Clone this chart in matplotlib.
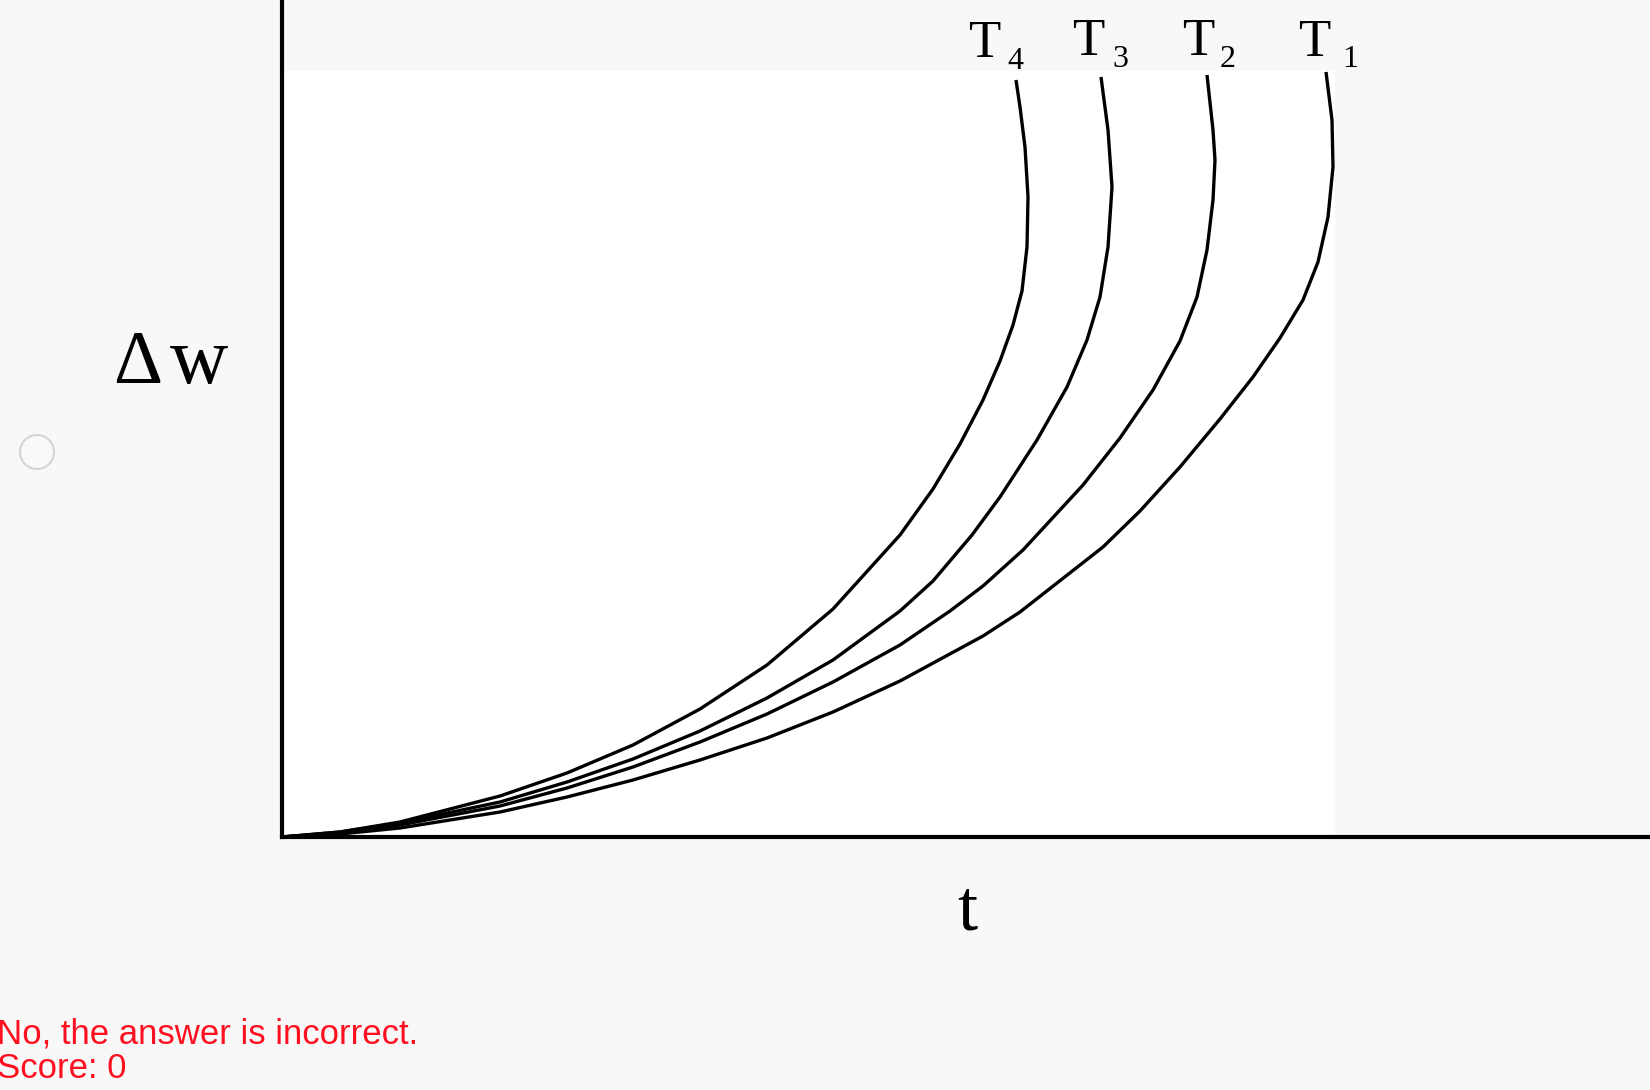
import matplotlib
matplotlib.use("Agg")
import matplotlib.pyplot as plt
from matplotlib.patches import Rectangle, Circle

W, H = 1650, 1090

# -----------------------------------
# Curve data (t, Δw), arbitrary units
# -----------------------------------
labels = ["T1", "T2", "T3", "T4"]

t_T1 = [0, 58, 118, 218, 285, 351, 418, 485, 551, 618, 701, 738, 821, 858, 898, 938,
        971, 998, 1021, 1036, 1046, 1051, 1050, 1044]
w_T1 = [0, 3, 9, 25, 40, 57, 77, 99, 125, 156, 201, 225, 290, 326, 370, 418,
        460, 499, 537, 575, 620, 670, 717, 765]

t_T2 = [0, 58, 118, 218, 285, 351, 418, 485, 551, 618, 668, 701, 741, 801, 838, 871,
        898, 915, 925, 931, 933, 931, 925]
w_T2 = [0, 4, 12, 31, 49, 70, 95, 123, 155, 192, 226, 251, 287, 352, 399, 447,
        496, 540, 587, 637, 677, 707, 762]

t_T3 = [0, 58, 118, 218, 285, 351, 418, 485, 551, 618, 651, 690, 718, 755, 785, 805,
        818, 826, 830, 826, 819]
w_T3 = [0, 5, 14, 35, 55, 78, 106, 139, 177, 226, 256, 302, 340, 397, 450, 497,
        540, 590, 650, 707, 760]

t_T4 = [0, 58, 118, 218, 285, 351, 418, 485, 551, 618, 651, 678, 701, 718, 731, 740,
        745, 746, 743, 738, 734]
w_T4 = [0, 5, 15, 41, 64, 92, 128, 172, 228, 302, 348, 393, 437, 476, 512, 546,
        590, 640, 690, 730, 757]

curves = [(t_T1, w_T1), (t_T2, w_T2), (t_T3, w_T3), (t_T4, w_T4)]

# label placement in pixels: (T left, T baseline, sub left, sub baseline)
label_pos = [(1298, 56, 1342, 67), (1182, 55, 1220, 67), (1072, 55, 1112, 67), (968, 57, 1007, 69)]


def px(x, y):
    return x / W, 1 - y / H


# -----------------------------------
# Figure and page decoration
# -----------------------------------
fig = plt.figure(figsize=(W / 100, H / 100), dpi=100, facecolor="#f8f8f8")

x0, y0 = px(282, 837)
x1, y1 = px(1335, 71)
fig.patches.append(Rectangle((x0, y0), x1 - x0, y1 - y0, transform=fig.transFigure,
                             facecolor="white", edgecolor="none", zorder=0))

cx, cy = px(37, 452)
fig.patches.append(Circle((cx * W, cy * H), 17, transform=None,
                          facecolor="#f9f9f9", edgecolor="#d4d4d4", lw=1.5, zorder=1))

# -----------------------------------
# Axes and curves
# -----------------------------------
ax = fig.add_axes([x0, y0, 1 - x0, 1 - y0])
ax.set_zorder(5)
ax.patch.set_alpha(0)
ax.set_xlim(0, W - 282)
ax.set_ylim(0, 837)
for side in ["top", "right"]:
    ax.spines[side].set_visible(False)
for side in ["left", "bottom"]:
    ax.spines[side].set_linewidth(3)
    ax.spines[side].set_color("black")
ax.set_xticks([])
ax.set_yticks([])

for t, w in curves:
    ax.plot(t, w, color="black", lw=2.4, solid_capstyle="butt", solid_joinstyle="round", clip_on=False)

# -----------------------------------
# Labels
# -----------------------------------
serif = "Liberation Serif"
for name, (tx, ty, sx, sy) in zip(labels, label_pos):
    fig.text(*px(tx, ty), name[0], family=serif, fontsize=38, va="baseline", ha="left")
    fig.text(*px(sx, sy), name[1:], family=serif, fontsize=23, va="baseline", ha="left")

fig.text(*px(113, 383), "\u0394", family=serif, fontsize=55, va="baseline", ha="left")
fig.text(*px(170, 383), "w", family=serif, fontsize=58, va="baseline", ha="left")
fig.text(*px(967, 930), "t", family=serif, fontsize=52, va="baseline", ha="center")

fig.text(*px(-3, 1043), "No, the answer is incorrect.", family="Liberation Sans",
         fontsize=25, color="#ff1020", va="baseline", ha="left")
fig.text(*px(-3, 1078), "Score: 0", family="Liberation Sans",
         fontsize=25, color="#ff1020", va="baseline", ha="left")

fig.savefig("out.png", dpi=100, facecolor=fig.get_facecolor())
